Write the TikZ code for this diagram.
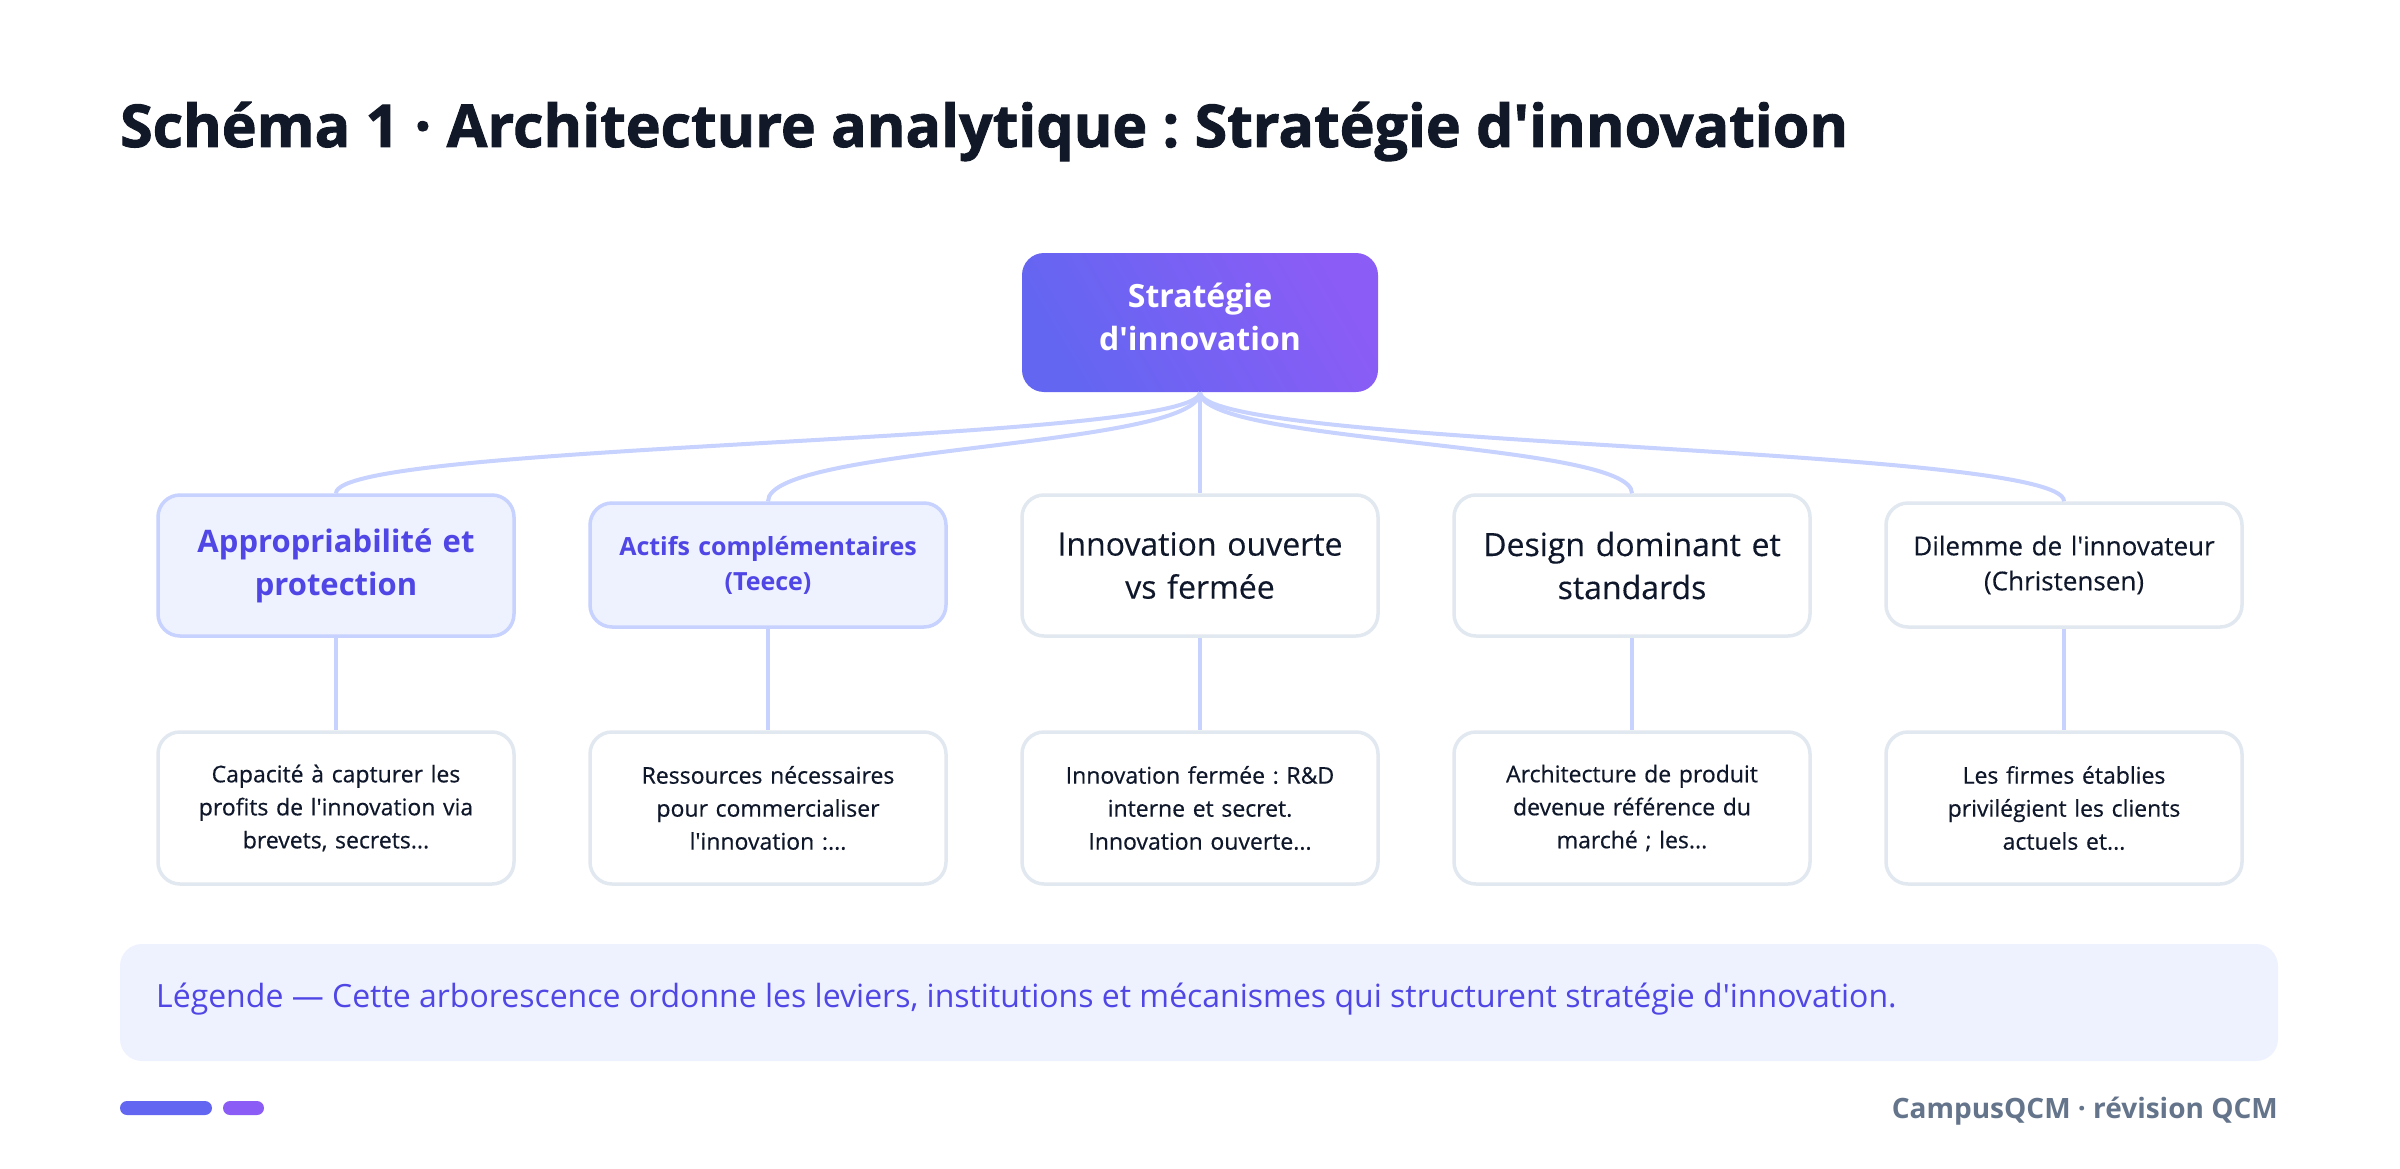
\documentclass[tikz,border=0pt]{standalone}
\usepackage{fontspec}
\setmainfont{Open Sans}[Ligatures=TeXOff]
\frenchspacing
\definecolor{titlecol}{HTML}{111827}
\definecolor{rootA}{HTML}{6366F1}
\definecolor{rootB}{HTML}{8B5CF6}
\definecolor{accfill}{HTML}{EEF2FF}
\definecolor{accline}{HTML}{C7D2FE}
\definecolor{acctext}{HTML}{4F46E5}
\definecolor{plainline}{HTML}{E2E8F0}
\definecolor{darktext}{HTML}{0F172A}
\definecolor{linkcol}{HTML}{C7D2FE}
\definecolor{footcol}{HTML}{64748B}
\definecolor{pillA}{HTML}{6366F1}
\definecolor{pillB}{HTML}{8B5CF6}
\tikzset{
  box/.style={rounded corners=22pt, minimum width=356pt, text width=346pt, align=center, line width=3.5pt, inner sep=0pt},
  accbox/.style={box, fill=accfill, draw=accline, text=acctext},
  plainbox/.style={box, fill=white, draw=plainline, text=darktext},
  link/.style={draw=linkcol, line width=4pt},
}
\begin{document}
\begin{tikzpicture}[x=1pt,y=-1pt]
\useasboundingbox (0,0) rectangle (2400,1169);
\fill[white] (0,0) rectangle (2400,1169);
% title
\node[anchor=base west, inner sep=0pt, text=titlecol, font=\fontsize{59}{70}\selectfont\bfseries\addfontfeatures{FakeBold=1.6}] (title) at (120,147) {Schéma 1 · Architecture analytique : Stratégie d'innovation};
% root
\node[rounded corners=22pt, minimum width=356pt, minimum height=139pt, inner sep=0pt,
  shading=axis, left color=rootA, right color=rootB, shading angle=120] (root) at (1200,322.5) {};
\node[align=center, inner sep=0pt, text=white, font=\fontsize{32}{43}\selectfont\bfseries] (roottext) at (1200,317) {Stratégie\\d'innovation};
% level 1
\node[accbox, minimum height=141pt, font=\fontsize{31}{43}\selectfont\bfseries] (a1) at (336,565.5) {Appropriabilité et\\protection};
\node[accbox, minimum height=124pt, font=\fontsize{25}{35}\selectfont\bfseries] (a2) at (768,565) {Actifs complémentaires\\(Teece)};
\node[plainbox, minimum height=141pt, font=\fontsize{32}{43}\selectfont\addfontfeatures{FakeBold=0.3}] (a3) at (1200,565.5) {Innovation ouverte\\vs fermée};
\node[plainbox, minimum height=141pt, font=\fontsize{32}{43}\selectfont\addfontfeatures{FakeBold=0.3}] (a4) at (1632,565.5) {Design dominant et\\standards};
\node[plainbox, minimum height=124pt, font=\fontsize{26}{35}\selectfont\addfontfeatures{FakeBold=0.3}] (a5) at (2064,565) {Dilemme de l'innovateur\\(Christensen)};
% level 2
\tikzset{leaf/.style={plainbox, minimum height=152pt, font=\fontsize{23}{33}\selectfont\addfontfeatures{FakeBold=0.5}}}
\node[leaf] (b1) at (336,808) {Capacité à capturer les\\profits de l'innovation via\\brevets, secrets...};
\node[leaf] (b2) at (768,808) {Ressources nécessaires\\pour commercialiser\\l'innovation :...};
\node[leaf] (b3) at (1200,808) {Innovation fermée : R\&D\\interne et secret.\\Innovation ouverte...};
\node[leaf] (b4) at (1632,808) {Architecture de produit\\devenue référence du\\marché ; les...};
\node[leaf] (b5) at (2064,808) {Les firmes établies\\privilégient les clients\\actuels et...};
% connectors root -> level 1
\draw[link] (root.south) .. controls +(0,51.5) and +(0,-51.5) .. (a1.north);
\draw[link] (root.south) .. controls +(0,55.5) and +(0,-55.5) .. (a2.north);
\draw[link] (root.south) -- (a3.north);
\draw[link] (root.south) .. controls +(0,51.5) and +(0,-51.5) .. (a4.north);
\draw[link] (root.south) .. controls +(0,55.5) and +(0,-55.5) .. (a5.north);
% level 1 -> level 2
\foreach \i in {1,...,5} {\draw[link] (a\i.south) -- (b\i.north);}
% legend
\node[rounded corners=22pt, fill=accfill, minimum width=2158pt, minimum height=117pt, inner sep=0pt] (legend) at (1199,1002.5) {};
\node[anchor=base west, inner sep=0pt, text=acctext, font=\fontsize{32}{38}\selectfont] (legtext) at (156,1007) {Légende — Cette arborescence ordonne les leviers, institutions et mécanismes qui structurent stratégie d'innovation.};
% footer
\node[rounded corners=7pt, fill=pillA, minimum width=92pt, minimum height=14pt, inner sep=0pt] (pill1) at (166,1108) {};
\node[rounded corners=7pt, fill=pillB, minimum width=41pt, minimum height=14pt, inner sep=0pt] (pill2) at (243.5,1108) {};
\node[anchor=base east, inner sep=0pt, text=footcol, font=\fontsize{28}{34}\selectfont\bfseries] (foot) at (2278,1118) {CampusQCM · révision QCM};
\end{tikzpicture}
\end{document}
